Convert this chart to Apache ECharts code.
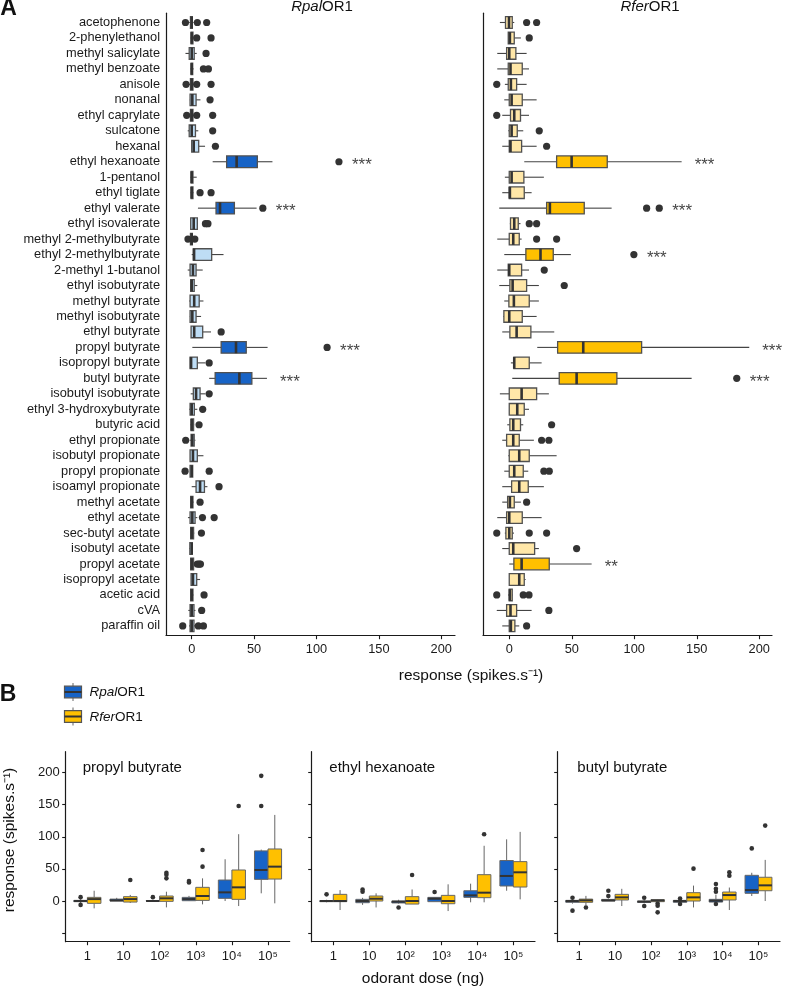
<!DOCTYPE html>
<html><head><meta charset="utf-8">
<script src="https://cdn.jsdelivr.net/npm/echarts@6/dist/echarts.min.js"></script>
<style>html,body{margin:0;padding:0;background:#fff}#c{width:787px;height:993px}</style>
</head><body><div id="c"></div>
<script>
const FONT = '"Liberation Sans", Arial, Helvetica, sans-serif';

// ---------- Panel A data ----------
const odorants = ['acetophenone','2-phenylethanol','methyl salicylate','methyl benzoate','anisole','nonanal','ethyl caprylate','sulcatone','hexanal','ethyl hexanoate','1-pentanol','ethyl tiglate','ethyl valerate','ethyl isovalerate','methyl 2-methylbutyrate','ethyl 2-methylbutyrate','2-methyl 1-butanol','ethyl isobutyrate','methyl butyrate','methyl isobutyrate','ethyl butyrate','propyl butyrate','isopropyl butyrate','butyl butyrate','isobutyl isobutyrate','ethyl 3-hydroxybutyrate','butyric acid','ethyl propionate','isobutyl propionate','propyl propionate','isoamyl propionate','methyl acetate','ethyl acetate','sec-butyl acetate','isobutyl acetate','propyl acetate','isopropyl acetate','acetic acid','cVA','paraffin oil'];

// [min, q1, median, q3, max]
const rpalBox = [
[-2,-1,0,0.5,1.5],[-1,-0.5,0,1,2],[-5,-2,0,2,4],[-1,-0.5,0,0.8,1.5],[-2.5,-1,0,1,2],
[-1.5,-1.3,0.5,3.5,7],[-2,-1,0,1,2],[-3.2,-2,0,3,5.3],[0,0,1.6,5.6,10.7],[16.8,28,36,52.6,64.7],
[-1,-0.5,0,1,4],[-1,-0.5,0,1,1.5],[5,19.5,22.7,34.2,52],[-1,-0.8,1.6,4.5,5],[-1.5,-1,0,0.5,1],
[0,1.3,1.9,16,25.5],[-3.2,-1.3,1,3.5,8.8],[-1,-0.8,0,2,4.5],[-2,-1.3,2,6,9.4],[-1.5,-1.3,0.5,3.5,7.5],
[-0.5,-0.5,2,8.8,15.5],[0.5,23.6,35.5,43.7,60.8],[-1.3,-1.3,-0.5,4.5,11],[14,18.8,38.2,48.2,60.3],[-0.8,1.3,3.5,6.7,11],
[-2,-1.3,0,2.1,4.5],[-1,-0.5,0,1.5,2],[-1.5,-0.5,0.5,2,3],[-1.3,-1.3,1,4.5,9.4],[-1.3,-1.3,0,0.8,1],
[0,3.5,6.7,10.2,12.6],[-1,-0.8,0,1,1.5],[-3,-1.3,0.5,2.7,4.5],[-1,-0.8,0,1.5,2],[-2,-1.5,0,0.5,1],
[-1,-0.8,0,1.5,2.5],[-0.5,-0.5,1,4,6.7],[-1,-0.8,0,1,1.5],[-2.7,-1.3,0,1.8,3],[-2,-1.3,0,1.8,3]
];
const rpalOut = [
[-5,4.5,12],[4,15.5],[11.5],[9.4,13.4],[-4.5,4,15.5],[14.7],[-4,4,16.8],[16.8],[19],[118],
[],[6.7,15.5],[57],[11,13],[-3,2.5],[],[],[],[],[],
[23.6],[108.5],[14],[],[14],[8.8],[5.9],[-4.8],[],[-5.3,14],
[21.9],[6.7],[8.6,18],[7.8],[],[4.5,6,7],[],[9.9],[8],[-7.2,5.3,9.4]
];
const rpalSig = ['','','','','','','','','','***','','','***','','','','','','','','','***','','***','','','','','','','','','','','','','','','',''];

const rferBox = [
[-7.5,-3,-0.2,2.4,4],[-0.8,-0.8,0.5,4,9.3],[-9.6,-2.1,0,5.3,13.9],[-9.6,-0.8,1,10.4,15.8],[-3.5,-0.8,1.3,5.9,13.9],
[-4,0,1.9,10.4,21.9],[-5.6,1,4,9,15.8],[-0.8,0,1.9,6.4,11.2],[-5.6,0,1,9.9,21.9],[12,37.9,49.9,78.4,137.9],
[-3.5,0,1.9,11.7,27.7],[-5.6,0,0.5,12,17.9],[-8,29.9,32.5,60,81.9],[0.5,1,4,7.2,9],[-9.6,0,3.2,8,9.9],
[-4,13.3,25,35.2,49.3],[-9.6,-0.8,0,9.9,15.8],[-8,0.5,2.7,13.9,23.7],[-4,-0.3,3.7,16,23.7],[-4.8,-4.3,0,10.4,21.9],
[-5.6,0.5,5.9,17.3,36],[22.4,38.7,59.2,105.9,192],[1.3,3.7,4,16,25.9],[2.4,40,53.9,86.1,145.9],[-7.5,0,9.9,21.9,31.7],
[0,0,6.4,12,15.8],[-1.6,0.5,3.2,9,11.2],[-5.6,-2.1,3.2,8,19.7],[-0.8,0,8,16,37.9],[-4,0,4,11.2,15.2],
[-5.6,1.9,8,15.2,27.7],[-5.6,-1.3,0.5,4,9.3],[-9.6,-2.1,0,10.4,25.9],[-3.5,-2.7,0,2.4,3.7],[-5.6,0,3.2,20.3,23.7],
[0,3.7,9.9,32,65.9],[0,0,8,12,13.1],[-1,0,0.5,2.4,3],[-10,-2.1,1,5.9,17.9],[-5.6,0,1.3,4.5,8]
];
const rferOut = [
[13.9,21.9],[16],[],[],[-10],[],[-10],[24],[29.9],[],
[],[],[109.9,120],[16,21.9],[21.9,37.9],[99.7],[28],[44],[],[],
[],[],[],[182],[],[],[33.9],[25.9,31.7],[],[27.7,32],
[],[13.9],[],[-10,16,29.9],[53.9],[],[],[-10,11.2,15.8],[31.7],[13.9]
];
const rferSig = ['','','','','','','','','','***','','','***','','','***','','','','','','***','','***','','','','','','','','','','','','**','','','',''];
const xTicksA = [0,50,100,150,200];

// ---------- Panel B data ----------
const doses = ['1','10','10²','10³','10⁴','10⁵'];
const facetB = ['propyl butyrate','ethyl hexanoate','butyl butyrate'];
const pbRpal = [[-3,-1,0,1,3],[0,0,1,3,5],[-1,0,0,0.5,2],[0,0.5,3,5.7,8],[0,4.2,13.5,32.7,65],[12,33.7,48.3,78,80]];
const pbRpalOut = [[6,-6],[],[6],[29,31],[],[148,194.8]];
const pbRfer = [[-11.4,-3.6,3,5.7,16],[-3,-1.6,3,6.8,9.5],[-9.9,-0.5,4.2,7.8,14.5],[-5.2,1,7.8,21.3,35.3],[-7.8,2.6,21.3,48.3,104],[-3.6,34.2,53.5,81,134]];
const pbRferOut = [[],[32.7],[35.3,41,44],[53.5,79.5],[148],[]];
const ehRpal = [[-2,-1,0,0.5,2],[-6,-2.6,0,2.6,5],[-4,-3,-1,0,2],[-1,-1,3.6,5.7,6],[-2,5.7,8.8,16,27],[16,23.4,39,63,96]];
const ehRpalOut = [[10.4],[14.5,18],[-10],[14],[],[]];
const ehRfer = [[-14,-1,0,10.4,17],[-10,0,3.6,7.8,12],[-4.7,-4.7,0,6.8,18],[-15.6,-4.2,0,8.8,26],[-2,5.2,13,41,86],[2.6,21.8,44.7,61.3,107.6]];
const ehRferOut = [[],[],[40.5],[],[104],[]];
const bbRpal = [[-4,-2,0,1,3],[0,0,1,2.5,4],[-3.5,-2,-1,0,2],[-2.5,-2,0,1,2.5],[-1.6,-1.6,0.5,2.6,10],[7.8,12,17,40,44]];
const bbRpalOut = [[5,-15],[7.8,16],[5.2,-7.8],[4,-4.7],[14.5,19,26.5,-4.7],[81.9]];
const bbRfer = [[-7,-2,1,3,8],[-7.8,1.6,5.7,10.4,19],[-1.5,-1,1,2,2.5],[-10,0,5.7,13,24],[-14,1.6,9.3,14,21],[0,16,24.4,37,64]];
const bbRferOut = [[-10],[],[-4,-7.3,-17.6],[50.4],[39.5,44.7],[117.4]];
const yTicksB = [-50,0,50,100,150,200];
const yLabelsB = [0,50,100,150,200];

// ---------- styles ----------
const DARK_BLUE = '#1763C6', LIGHT_BLUE = '#BEDDF5';
const GOLD = '#FFC000', LIGHT_GOLD = '#FFE7A8';
const AX = '#1a1a1a';

function hBoxRender(dark, light) {
  return function (params, api) {
    const row = api.value(0);
    const v = [1,2,3,4,5].map(i => api.value(i));
    const sig = api.value(6);
    const y = api.coord([0, row])[1];
    const px = v.map(x => api.coord([x, row])[0]);
    const h = Math.abs(api.size([0, 1])[1]) * 0.75;
    return { type: 'group', children: [
      { type: 'line', shape: { x1: px[0], y1: y, x2: px[1], y2: y }, style: { stroke: '#444', lineWidth: 1.1 } },
      { type: 'line', shape: { x1: px[3], y1: y, x2: px[4], y2: y }, style: { stroke: '#444', lineWidth: 1.1 } },
      { type: 'rect', shape: { x: px[1], y: y - h / 2, width: px[3] - px[1], height: h }, style: { fill: sig ? dark : light, stroke: '#505050', lineWidth: 1.3 } },
      { type: 'line', shape: { x1: px[2], y1: y - h / 2, x2: px[2], y2: y + h / 2 }, style: { stroke: '#333', lineWidth: 2.6 } }
    ]};
  };
}
function vBoxRender(fill, side) {
  return function (params, api) {
    const d = api.value(0);
    const v = [1,2,3,4,5].map(i => api.value(i));
    const band = Math.abs(api.size([1, 0])[0]);
    const w = band * 0.375;
    const xc = api.coord([d + side * 0.1875, 0])[0];
    const py = v.map(y => api.coord([d, y])[1]);
    return { type: 'group', children: [
      { type: 'line', shape: { x1: xc, y1: py[0], x2: xc, y2: py[1] }, style: { stroke: '#666', lineWidth: 1 } },
      { type: 'line', shape: { x1: xc, y1: py[3], x2: xc, y2: py[4] }, style: { stroke: '#666', lineWidth: 1 } },
      { type: 'rect', shape: { x: xc - w / 2, y: py[3], width: w, height: py[1] - py[3] }, style: { fill: fill, stroke: '#666', lineWidth: 1 } },
      { type: 'line', shape: { x1: xc - w / 2, y1: py[2], x2: xc + w / 2, y2: py[2] }, style: { stroke: '#333', lineWidth: 2 } }
    ]};
  };
}

const series = [];
function addPanelA(idx, box, out, sig, dark, light) {
  series.push({
    type: 'custom', xAxisIndex: idx, yAxisIndex: idx,
    renderItem: hBoxRender(dark, light),
    encode: { x: [1,2,3,4,5], y: 0 },
    data: box.map((b, i) => [i, ...b, sig[i] ? 1 : 0]),
    z: 2
  });
  const pts = [];
  out.forEach((o, i) => o.forEach(v => pts.push([v, i])));
  series.push({ type: 'scatter', xAxisIndex: idx, yAxisIndex: idx, data: pts, symbolSize: 7.2,
    itemStyle: { color: '#333', opacity: 1 }, z: 3, silent: true });
  const stars = [];
  sig.forEach((s, i) => { if (s) stars.push([Math.max(...box[i], ...out[i]) + 10, i, s]); });
  series.push({ type: 'scatter', xAxisIndex: idx, yAxisIndex: idx, data: stars, symbolSize: 1,
    itemStyle: { color: 'rgba(0,0,0,0)' }, z: 4, silent: true,
    label: { show: true, position: 'right', distance: 0, offset: [0, 3.5], formatter: p => p.data[2],
      fontSize: 17, color: '#111', fontFamily: FONT } });
}
addPanelA(0, rpalBox, rpalOut, rpalSig, DARK_BLUE, LIGHT_BLUE);
addPanelA(1, rferBox, rferOut, rferSig, GOLD, LIGHT_GOLD);

function addPanelB(idx, box, out, fill, side) {
  series.push({
    type: 'custom', xAxisIndex: idx, yAxisIndex: idx,
    renderItem: vBoxRender(fill, side),
    encode: { x: 0, y: [1,2,3,4,5] },
    data: box.map((b, i) => [i, ...b]), z: 2
  });
  const pts = [];
  out.forEach((o, i) => o.forEach(v => pts.push([i + side * 0.1875, v])));
  series.push({ type: 'scatter', xAxisIndex: idx, yAxisIndex: idx, data: pts, symbolSize: 4.6,
    itemStyle: { color: '#333', opacity: 1 }, z: 3, silent: true });
}
addPanelB(2, pbRpal, pbRpalOut, DARK_BLUE, -1);
addPanelB(2, pbRfer, pbRferOut, GOLD, 1);
addPanelB(3, ehRpal, ehRpalOut, DARK_BLUE, -1);
addPanelB(3, ehRfer, ehRferOut, GOLD, 1);
addPanelB(4, bbRpal, bbRpalOut, DARK_BLUE, -1);
addPanelB(4, bbRfer, bbRferOut, GOLD, 1);

const grids = [
  { left: 166, top: 13.2, width: 289, height: 622 },
  { left: 483, top: 13.2, width: 289, height: 622 },
  { left: 65.7, top: 751.7, width: 224, height: 190 },
  { left: 311.7, top: 751.7, width: 223.3, height: 190 },
  { left: 557.7, top: 751.7, width: 222.3, height: 190 }
];
const lineStyle = { color: AX, width: 1.2 };
const xAxes = [
  { gridIndex: 0, min: -20.6, max: 211 },
  { gridIndex: 1, min: -21, max: 210.2 }
].map(a => Object.assign({
  type: 'value', splitLine: { show: false },
  axisLine: { show: true, onZero: false, lineStyle },
  axisTick: { show: true, length: 4, customValues: xTicksA, lineStyle: { color: AX, width: 1.1 } },
  axisLabel: { customValues: xTicksA, fontSize: 12.8, color: AX, margin: 8, fontFamily: FONT }
}, a));
const yAxes = [0, 1].map(i => ({
  gridIndex: i, type: 'value', inverse: true, min: -0.6, max: 39.6, splitLine: { show: false },
  axisLine: { show: true, onZero: false, lineStyle },
  axisTick: { show: false },
  axisLabel: { show: i === 0, customValues: odorants.map((_, k) => k), formatter: v => odorants[Math.round(v)],
    fontSize: 12.8, color: AX, margin: 6, fontFamily: FONT }
}));
[2, 3, 4].forEach(g => {
  xAxes.push({
    gridIndex: g, type: 'value', min: -0.6, max: 5.6, splitLine: { show: false },
    axisLine: { show: true, onZero: false, lineStyle },
    axisTick: { show: true, length: 3.5, customValues: doses.map((_, k) => k), lineStyle: { color: AX, width: 1.1 } },
    axisLabel: { customValues: doses.map((_, k) => k), formatter: v => doses[Math.round(v)],
      fontSize: 13, color: AX, margin: 8, fontFamily: FONT }
  });
  yAxes.push({
    gridIndex: g, type: 'value', min: -63.3, max: 232.4, splitLine: { show: false },
    axisLine: { show: true, onZero: false, lineStyle },
    axisTick: { show: true, length: 3.5, customValues: yTicksB, lineStyle: { color: AX, width: 1.1 } },
    axisLabel: { show: g === 2, customValues: yLabelsB, fontSize: 13, color: AX, margin: 6, fontFamily: FONT }
  });
});

function txt(x, y, text, size, opts) {
  return Object.assign({ type: 'text', x, y, silent: true, style: Object.assign({
    text, fontSize: size, fontFamily: FONT, fill: '#111',
    align: 'center', verticalAlign: 'middle', textAlign: 'center', textVerticalAlign: 'middle',
    rich: { i: { fontStyle: 'italic', fontSize: size, fontFamily: FONT, fill: '#111' },
            n: { fontSize: size, fontFamily: FONT, fill: '#111' } }
  }, opts || {}) });
}
function legendKey(y, fill) {
  return { type: 'group', silent: true, children: [
    { type: 'line', shape: { x1: 73, y1: y - 9, x2: 73, y2: y - 5.5 }, style: { stroke: '#666', lineWidth: 1 } },
    { type: 'line', shape: { x1: 73, y1: y + 5.5, x2: 73, y2: y + 9 }, style: { stroke: '#666', lineWidth: 1 } },
    { type: 'rect', shape: { x: 64.5, y: y - 5.8, width: 17, height: 11.6 }, style: { fill, stroke: '#555', lineWidth: 1.2 } },
    { type: 'line', shape: { x1: 64.5, y1: y, x2: 81.5, y2: y }, style: { stroke: '#333', lineWidth: 2 } }
  ]};
}
const graphics = [
  txt(8.5, 9, 'A', 23, { fontWeight: 'bold' }),
  txt(8, 695, 'B', 23, { fontWeight: 'bold' }),
  txt(322, 7, '{i|Rpal}{n|OR1}', 15),
  txt(650, 7, '{i|Rfer}{n|OR1}', 15),
  txt(471, 676, 'response (spikes.s⁻¹)', 15.5),
  txt(423, 979, 'odorant dose (ng)', 15.5),
  txt(10, 840, 'response (spikes.s⁻¹)', 15.5, {}),
  legendKey(692, DARK_BLUE),
  legendKey(716.5, GOLD),
  txt(89.5, 692.5, '{i|Rpal}{n|OR1}', 13.5, { align: 'left', textAlign: 'left' }),
  txt(89.5, 717, '{i|Rfer}{n|OR1}', 13.5, { align: 'left', textAlign: 'left' }),
  txt(82.7, 768, facetB[0], 15, { align: 'left', textAlign: 'left' }),
  txt(329.3, 768, facetB[1], 15, { align: 'left', textAlign: 'left' }),
  txt(577.3, 768, facetB[2], 15, { align: 'left', textAlign: 'left' })
];
graphics[6].rotation = Math.PI / 2;

const chart = echarts.init(document.getElementById('c'), null, { renderer: 'canvas' });
chart.setOption({
  animation: false,
  backgroundColor: '#fff',
  textStyle: { fontFamily: FONT },
  grid: grids, xAxis: xAxes, yAxis: yAxes, series, graphic: graphics
});
</script></body></html>
